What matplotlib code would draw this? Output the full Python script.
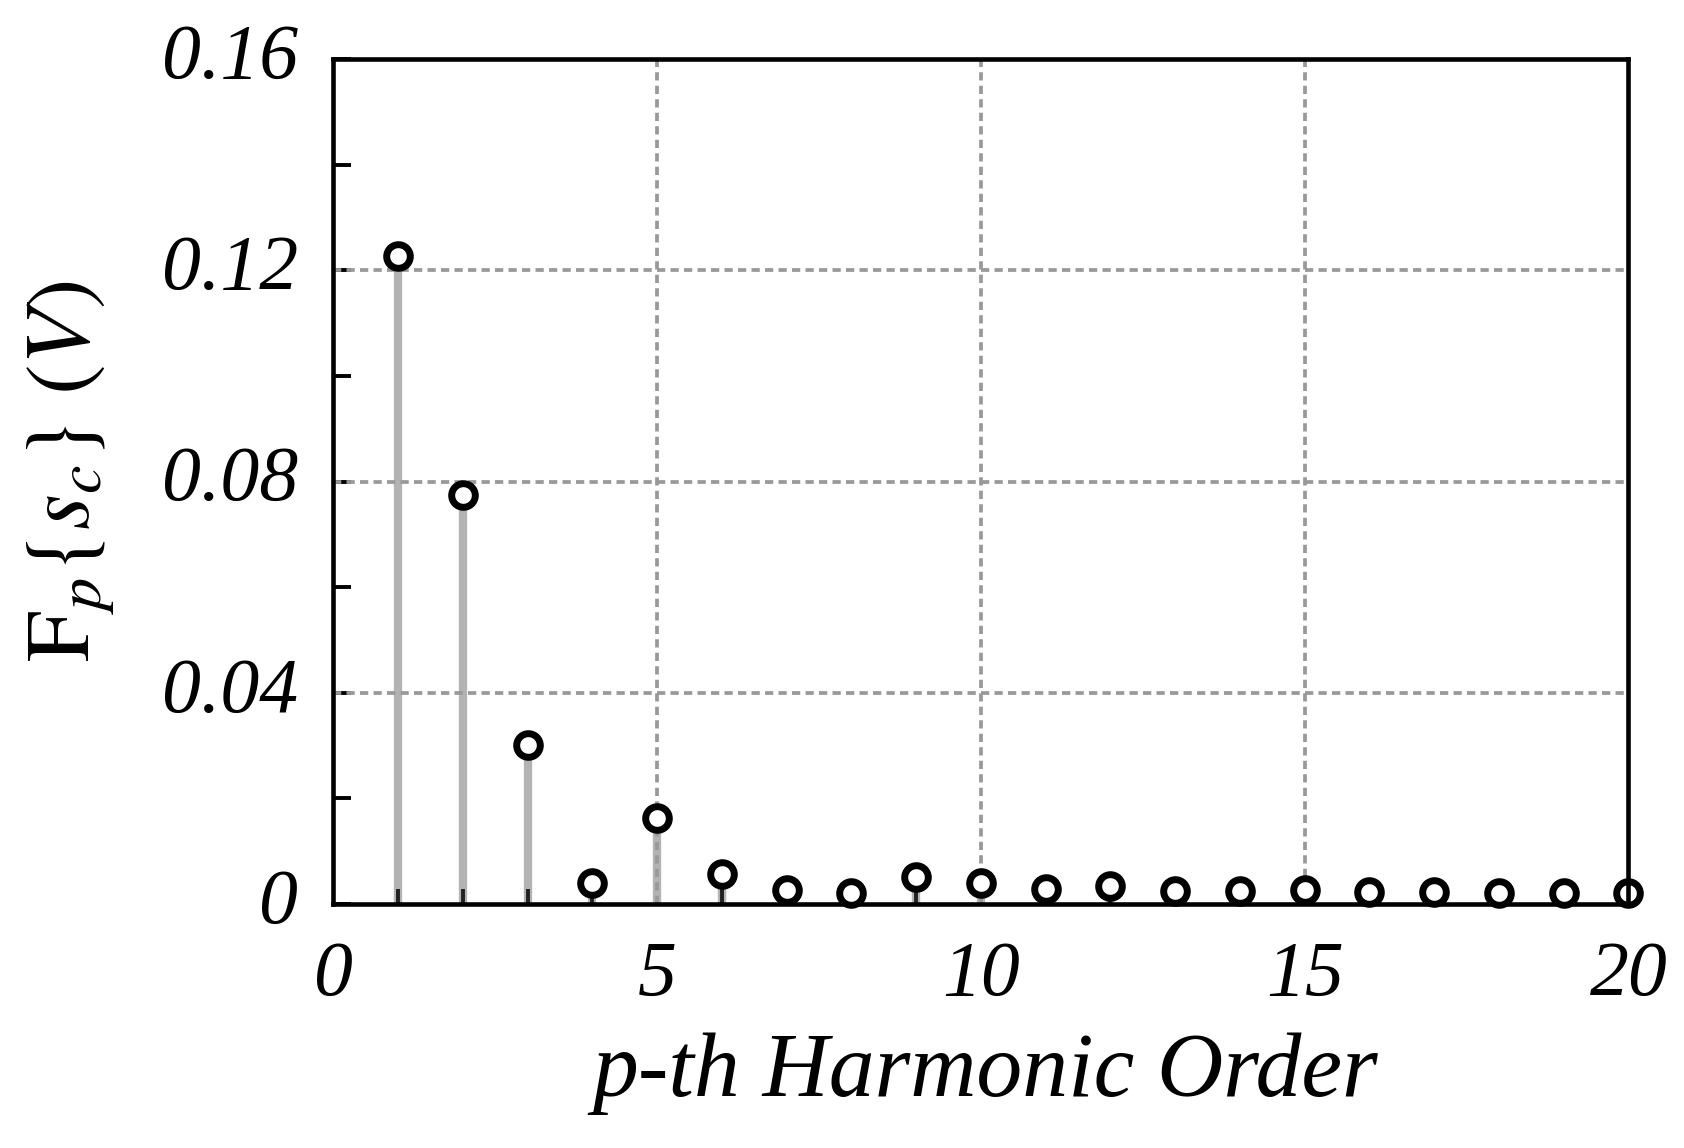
import matplotlib
matplotlib.use("Agg")
import matplotlib.pyplot as plt
from matplotlib.ticker import MultipleLocator

# harmonic order and amplitude
order = [1, 2, 3, 4, 5, 6, 7, 8, 9, 10, 11, 12, 13, 14, 15, 16, 17, 18, 19, 20]
amp = [0.1228, 0.0775, 0.0301, 0.0039, 0.0163, 0.0057, 0.0026, 0.0020, 0.0051, 0.0039,
       0.0028, 0.0035, 0.0024, 0.0024, 0.0026, 0.0022, 0.0022, 0.0020, 0.0020, 0.0020]

plt.rcParams['font.family'] = ['Liberation Serif', 'DejaVu Serif']
plt.rcParams['mathtext.fontset'] = 'stix'

fig = plt.figure(figsize=(16.84, 11.48), dpi=100)
ax = fig.add_axes([0.198, 0.2125, 0.769, 0.736])

# stems
ax.vlines(order, 0, amp, colors='#b3b3b3', linewidth=6, zorder=1)
# grid on top of stems
dash = (0, (2.2, 1.4))
for gx in [5, 10, 15]:
    ax.axvline(gx, color='#999999', linestyle=dash, linewidth=2.7, zorder=2)
for gy in [0.04, 0.08, 0.12]:
    ax.axhline(gy, color='#999999', linestyle=dash, linewidth=2.7, zorder=2)
# markers
ax.plot(order, amp, linestyle='none', marker='o', markersize=17, markerfacecolor='white',
        markeredgecolor='black', markeredgewidth=5, zorder=4, clip_on=False)

ax.set_xlim(0, 20)
ax.set_ylim(0, 0.16)
ax.xaxis.set_major_locator(MultipleLocator(5))
ax.xaxis.set_minor_locator(MultipleLocator(1))
ax.yaxis.set_major_locator(MultipleLocator(0.04))
ax.yaxis.set_minor_locator(MultipleLocator(0.02))

ax.set_xticklabels([])
ax.set_yticklabels([])
for v in [0, 5, 10, 15, 20]:
    ax.text(v, -0.0068, str(v), ha='center', va='top', fontsize=56, style='italic',
            transform=ax.transData)
for v, s in [(0, '0'), (0.04, '0.04'), (0.08, '0.08'), (0.12, '0.12'), (0.16, '0.16')]:
    ax.text(-0.55, v, s, ha='right', va='center', fontsize=56, style='italic',
            transform=ax.transData)

ax.tick_params(which='both', direction='in', top=False, right=False, length=0)
ax.tick_params(axis='y', which='both', length=13, width=2.8, color='black')
ax.tick_params(axis='x', which='minor', length=11, width=2.8, color='#222222')
ax.tick_params(axis='x', which='major', length=0)

for sp in ax.spines.values():
    sp.set_linewidth(3.3)
    sp.set_color('black')
    sp.set_zorder(5)

fig.text(0.585, 0.065, 'p-th Harmonic Order', ha='center', va='center', fontsize=66,
         style='italic')
fig.text(0.042, 0.59, r'$\mathrm{F}_p\{s_c\}\ (V)$', ha='center', va='center',
         fontsize=66, rotation=90)

fig.savefig('out.png', dpi=100)
